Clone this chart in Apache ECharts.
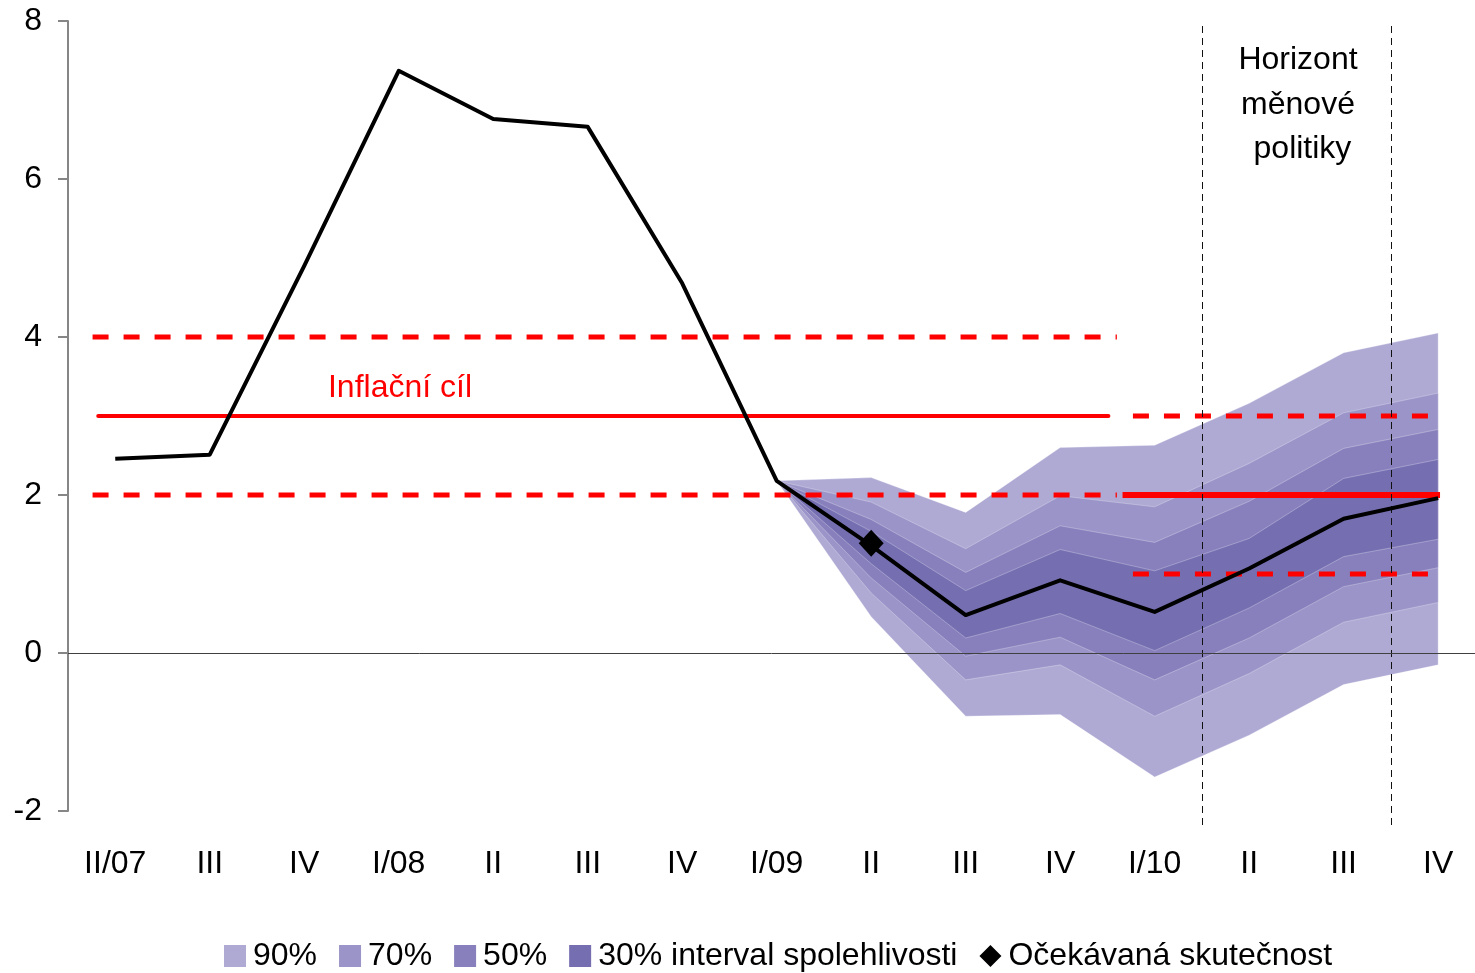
<!DOCTYPE html>
<html>
<head>
<meta charset="utf-8">
<script src="https://cdn.jsdelivr.net/npm/echarts@6/dist/echarts.min.js"></script>
<style>html,body{margin:0;padding:0;background:#fff}#c{width:1475px;height:973px}</style>
</head>
<body>
<div id="c"></div>
<script>
// ---- data ----
const categories = ['II/07','III','IV','I/08','II','III','IV','I/09','II','III','IV','I/10','II','III','IV'];
const inflation = [2.46, 2.51, 4.90, 7.37, 6.76, 6.66, 4.68, 2.18, 1.36, 0.48, 0.92, 0.52, 1.07, 1.70, 1.96];
const yTicks = [-2, 0, 2, 4, 6, 8];

// fan chart (from I/09 = index 7 to IV/10 = index 14)
const fanStart = 7;
const hi90 = [2.18, 2.22, 1.78, 2.60, 2.63, 3.16, 3.80, 4.05];
const hi70 = [2.18, 1.91, 1.32, 1.99, 1.85, 2.40, 3.04, 3.29];
const hi50 = [2.18, 1.69, 1.02, 1.61, 1.40, 1.92, 2.59, 2.83];
const hi30 = [2.18, 1.54, 0.79, 1.31, 1.04, 1.45, 2.21, 2.45];
const lo30 = [2.18, 1.13, 0.19, 0.50, 0.03, 0.57, 1.22, 1.44];
const lo50 = [2.18, 0.95, -0.04, 0.20, -0.34, 0.19, 0.84, 1.08];
const lo70 = [2.18, 0.76, -0.34, -0.15, -0.80, -0.26, 0.39, 0.64];
const lo90 = [2.18, 0.46, -0.80, -0.78, -1.57, -1.04, -0.40, -0.15];

// expected value (Očekávaná skutečnost)
const expectedIndex = 8;
const expectedValue = 1.39;

// inflation target and tolerance band (x in category-index units)
const bandLeftX = [-0.24, 10.60];
const bandLeftUpper = 4;
const bandLeftLower = 2;
const targetLeftX = [-0.18, 10.51];
const targetLeft = 3;
const bandRightX = [10.77, 13.92];
const bandRightUpper = 3;
const bandRightLower = 1;
const targetRightX = [10.66, 14.02];
const targetRight = 2;
const horizonX = [11.5, 13.5];

// x range shown (category units); the plot runs past the last category to the right edge
const xMin = -0.5;
const xMax = 14.39;

const legendNames = ['90%', '70%', '50%', '30% interval spolehlivosti', 'Očekávaná skutečnost'];

// ---- styles ----
const FONT = 'Liberation Sans, Arial, sans-serif';
const fanColors = ['#afaad4', '#9b94c8', '#8780bd', '#756fb1'];
const RED = '#ff0000';

function fanSeries(name, hi, lo, color, z) {
  return {
    name: name, type: 'custom', z: z,
    itemStyle: { color: color },
    data: [[fanStart, hi[0]]],
    silent: true, clip: false,
    renderItem: function (params, api) {
      const pts = [];
      for (let i = 0; i < hi.length; i++) pts.push(api.coord([fanStart + i, hi[i]]));
      for (let i = lo.length - 1; i >= 0; i--) pts.push(api.coord([fanStart + i, lo[i]]));
      return { type: 'polygon', shape: { points: pts },
               style: { fill: color, stroke: 'rgba(255,255,255,0.28)', lineWidth: 1 } };
    }
  };
}

function hLine(xs, y, width, dashed, cap) {
  return {
    type: 'line', z: 5, silent: true, clip: false,
    symbol: 'none',
    data: [[xs[0], y], [xs[1], y]],
    lineStyle: { color: RED, width: width, type: dashed ? [16, 15] : 'solid', cap: cap || 'butt' }
  };
}

const catIdx = categories.map((c, i) => i);

const chart = echarts.init(document.getElementById('c'), null, { renderer: 'canvas' });
chart.setOption({
  animation: false,
  backgroundColor: '#ffffff',
  grid: { left: 68, top: 21, right: 0, bottom: 162, containLabel: false },
  xAxis: {
    type: 'value', min: xMin, max: xMax,
    axisLine: { show: false, onZero: false }, axisTick: { show: false }, splitLine: { show: false },
    axisLabel: { color: '#000', fontSize: 32, fontFamily: FONT, margin: 37,
                 customValues: catIdx,
                 formatter: function (v) { return categories[Math.round(v)]; } }
  },
  yAxis: {
    type: 'value', min: yTicks[0], max: yTicks[yTicks.length - 1], interval: 2,
    axisLine: { show: true, onZero: false, lineStyle: { color: '#868686', width: 2 } },
    axisTick: { show: true, inside: false, length: 10, lineStyle: { color: '#868686', width: 2 } },
    splitLine: { show: false },
    axisLabel: { color: '#000', fontSize: 32, fontFamily: FONT, margin: 26 }
  },
  legend: {
    data: legendNames.map((n, i) => ({ name: n, icon: i < 4 ? 'rect' : 'diamond' })),
    left: 224, top: 940, padding: 0, itemWidth: 22, itemHeight: 22, itemGap: 22,
    textStyle: { color: '#000', fontSize: 32, fontFamily: FONT, padding: [0, 0, 0, 2] },
    selectedMode: false
  },
  graphic: [
    { type: 'text', z: 100,
      style: { text: 'Inflační cíl', fill: RED, font: '32px ' + FONT, x: 400, y: 388,
               textAlign: 'center', textVerticalAlign: 'middle' } },
    { type: 'text', z: 100,
      style: { text: 'Horizont\nměnové\n politiky', fill: '#000', font: '32px ' + FONT,
               x: 1298, y: 38, textAlign: 'center', textVerticalAlign: 'top', lineHeight: 44.5 } }
  ],
  series: [
    fanSeries('90%', hi90, lo90, fanColors[0], 1),
    fanSeries('70%', hi70, lo70, fanColors[1], 2),
    fanSeries('50%', hi50, lo50, fanColors[2], 3),
    fanSeries('30% interval spolehlivosti', hi30, lo30, fanColors[3], 4),
    hLine(bandLeftX, bandLeftUpper, 5, true),
    hLine(bandLeftX, bandLeftLower, 5, true),
    hLine(targetLeftX, targetLeft, 4, false, 'round'),
    hLine(bandRightX, bandRightUpper, 5, true),
    hLine(bandRightX, bandRightLower, 5, true),
    hLine(targetRightX, targetRight, 6, false),
    {
      type: 'custom', z: 6, silent: true, clip: false,
      data: horizonX.map(x => [x, yTicks[yTicks.length - 1]]),
      renderItem: function (params, api) {
        const x = Math.round(api.coord([api.value(0), 0])[0]) + 0.5;
        const top = api.coord([0, yTicks[yTicks.length - 1]])[1] + 5;
        const bot = api.coord([0, yTicks[0]])[1] + 15;
        return { type: 'line', shape: { x1: x, y1: top, x2: x, y2: bot },
                 style: { stroke: '#111', lineWidth: 1, lineDash: [7, 5] } };
      }
    },
    {
      name: 'Inflace', type: 'line', data: inflation.map((v, i) => [i, v]), z: 8,
      symbol: 'none', silent: true,
      lineStyle: { color: '#000', width: 4, join: 'round' },
      markLine: { silent: true, symbol: 'none', label: { show: false }, z: 7,
                  lineStyle: { color: '#404040', width: 1, type: 'solid' },
                  data: [{ yAxis: 0 }] }
    },
    {
      name: 'Očekávaná skutečnost', type: 'scatter', z: 9, silent: true,
      symbol: 'diamond', symbolSize: [25, 27],
      itemStyle: { color: '#000', opacity: 1 },
      data: [[expectedIndex, expectedValue]]
    }
  ]
});
</script>
</body>
</html>
